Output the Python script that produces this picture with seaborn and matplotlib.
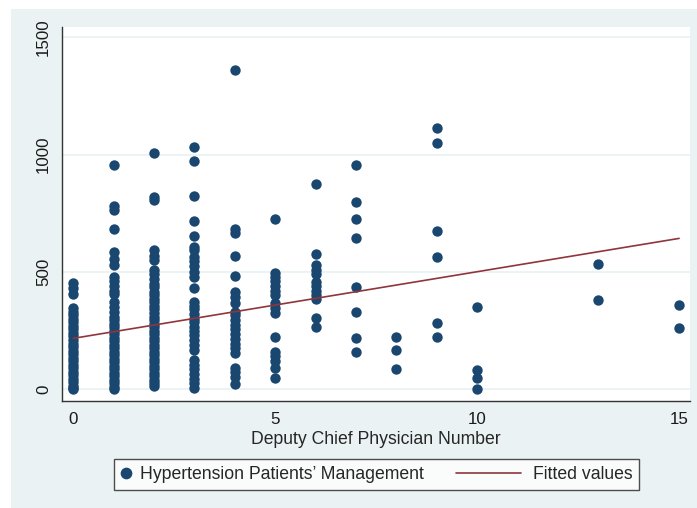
import matplotlib
matplotlib.use("Agg")
import matplotlib.pyplot as plt
from matplotlib.patches import Rectangle
from matplotlib.lines import Line2D
from matplotlib.legend_handler import HandlerLine2D
import seaborn as sns
import pandas as pd

# ---- data ----
y_at_0 = [455, 430, 405, 345, 330, 315, 300, 285, 270, 255, 240, 225, 210, 195, 180,
          165, 150, 135, 120, 105, 90, 75, 60, 45, 30, 15, 5, 0]
y_at_1 = [955, 780, 765, 685, 585, 555, 530, 480, 460, 440, 420, 405, 370, 350, 330,
          310, 295, 280, 265, 250, 235, 220, 205, 190, 175, 160, 145, 130, 115, 100,
          85, 70, 55, 40, 25, 10, 0]
y_at_2 = [1008, 820, 808, 593, 570, 550, 508, 490, 470, 450, 436, 415, 400, 385, 370,
          355, 340, 325, 310, 295, 280, 265, 250, 235, 220, 205, 190, 175, 160, 145,
          130, 115, 100, 85, 70, 55, 40, 25, 12]
y_at_3 = [1031, 974, 823, 718, 654, 607, 593, 565, 545, 525, 500, 480, 430, 373, 355,
          340, 320, 300, 285, 265, 250, 230, 210, 190, 167, 125, 105, 85, 65, 45, 25, 5]
y_at_4 = [1360, 685, 665, 570, 483, 416, 395, 368, 331, 316, 295, 275, 255, 235, 215,
          195, 175, 155, 91, 72, 53, 23]
y_at_5 = [725, 497, 480, 460, 440, 420, 400, 368, 345, 325, 224, 160, 140, 120, 91, 48]
y_at_6 = [873, 575, 530, 510, 490, 458, 440, 420, 400, 385, 302, 267]
y_at_7 = [955, 799, 727, 643, 437, 328, 217, 159]
y_at_8 = [221, 166, 85]
y_at_9 = [1115, 1050, 674, 565, 282, 221]
y_at_10 = [352, 82, 47, 0]
y_at_13 = [532, 380]
y_at_15 = [359, 260]

physician_numbers = [0, 1, 2, 3, 4, 5, 6, 7, 8, 9, 10, 13, 15]
patient_columns = [y_at_0, y_at_1, y_at_2, y_at_3, y_at_4, y_at_5, y_at_6,
                   y_at_7, y_at_8, y_at_9, y_at_10, y_at_13, y_at_15]

fit_x = [0, 15]
fit_y = [217, 643]

x_ticks = [0, 5, 10, 15]
y_ticks = [0, 500, 1000, 1500]

x_label = "Deputy Chief Physician Number"
scatter_label = "Hypertension Patients\u2019 Management"
fit_label = "Fitted values"

rows = [(xv, yv) for xv, col in zip(physician_numbers, patient_columns) for yv in col]
df = pd.DataFrame(rows, columns=["physicians", "patients"])
fit_df = pd.DataFrame({"physicians": fit_x, "fitted": fit_y})

# ---- styling ----
sns.set_style("white")
plt.rcParams["font.family"] = ["Liberation Sans", "DejaVu Sans"]

navy = "#1a476f"
maroon = "#90353b"
panel = "#eaf2f3"
FS = 12.7
TFS = 12.2

fig = plt.figure(figsize=(6.97, 5.08), dpi=100)
fig.patch.set_facecolor("white")
fig.add_artist(Rectangle((11 / 697, 0), 1 - 11 / 697, 1 - 9 / 508,
                         transform=fig.transFigure, facecolor=panel,
                         edgecolor="none", zorder=-10))

ax = fig.add_axes([62 / 697, (508 - 401) / 508, (690 - 62) / 697, (401 - 27) / 508])
ax.set_facecolor("white")

sns.scatterplot(data=df, x="physicians", y="patients", color=navy, s=56,
                linewidth=0, ax=ax, zorder=3, legend=False)
sns.lineplot(data=fit_df, x="physicians", y="fitted", color=maroon, lw=1.2,
             ax=ax, zorder=4, legend=False)

ax.set_xlim(-0.28, 15.27)
ax.set_ylim(-50, 1544)
ax.set_xticks(x_ticks)
ax.set_yticks(y_ticks)
ax.set_xticklabels([str(v) for v in x_ticks], fontsize=TFS)
ax.set_yticklabels([str(v) for v in y_ticks], fontsize=TFS, rotation=90, va="center")
ax.set_xlabel(x_label, fontsize=FS, labelpad=3)
ax.set_ylabel("")
ax.yaxis.grid(True, color=panel, lw=1.3, zorder=0)
ax.xaxis.grid(False)
ax.set_axisbelow(True)
for side in ["top", "right"]:
    ax.spines[side].set_visible(False)
for side in ["left", "bottom"]:
    ax.spines[side].set_color("#333333")
    ax.spines[side].set_linewidth(1.0)
ax.tick_params(axis="both", direction="out", length=5, width=1, color="#333333",
               labelcolor="#1a1a1a", pad=3)


class LongLineHandler(HandlerLine2D):
    def create_artists(self, legend, orig_handle, xdescent, ydescent, width,
                       height, fontsize, trans):
        y = height / 2 - ydescent
        ln = Line2D([-41.8 - xdescent, width - 2.6 - xdescent], [y, y],
                    color=maroon, lw=1.2)
        ln.set_transform(trans)
        return [ln]


h_scatter = Line2D([], [], marker="o", linestyle="none", color=navy, markersize=7.4)
h_fit = Line2D([], [], color=maroon, lw=1.2)
leg = fig.legend([h_scatter, h_fit], [scatter_label, fit_label], ncol=2,
                 loc="center", bbox_to_anchor=(376.5 / 697, (508 - 474.5) / 508),
                 fontsize=FS, frameon=True, fancybox=False, handlelength=0.6,
                 handletextpad=0.48, columnspacing=5.1, borderpad=0.4,
                 handler_map={h_fit: LongLineHandler()})
leg.get_frame().set_edgecolor("#222222")
leg.get_frame().set_linewidth(1.0)
leg.get_frame().set_facecolor("white")

fig.savefig("out.png", dpi=100, facecolor=fig.get_facecolor())
